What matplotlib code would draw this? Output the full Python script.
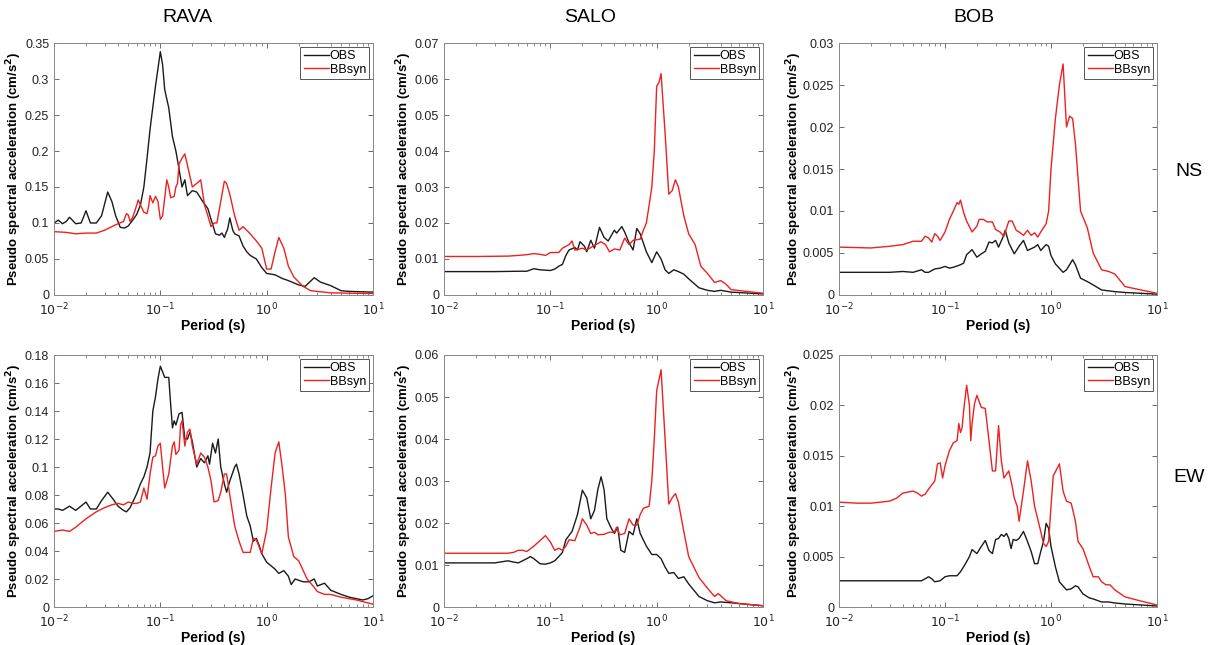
import numpy as np
import matplotlib
matplotlib.use("Agg")
import matplotlib.pyplot as plt
from matplotlib.ticker import FixedLocator, LogLocator, NullFormatter

plt.rcParams['font.family'] = ['Liberation Sans', 'DejaVu Sans']

stations = ["RAVA", "SALO", "BOB"]
components = ["NS", "EW"]

# ---- RAVA NS ----
rava_ns_obs_T = [0.01, 0.011, 0.012, 0.013, 0.014, 0.016, 0.018, 0.02, 0.022, 0.025, 0.028, 0.032, 0.035,
                 0.038, 0.042, 0.046, 0.05, 0.055, 0.06, 0.065, 0.07, 0.075, 0.08, 0.09, 0.1, 0.105, 0.11,
                 0.12, 0.13, 0.14, 0.15, 0.16, 0.17, 0.18, 0.2, 0.22, 0.25, 0.28, 0.3, 0.33, 0.36, 0.38,
                 0.4, 0.43, 0.45, 0.48, 0.5, 0.55, 0.6, 0.65, 0.7, 0.8, 0.9, 1.0, 1.2, 1.4, 1.6, 2.0, 2.3,
                 2.8, 3.2, 4.0, 5.0, 6.0, 10.0]
rava_ns_obs = [0.10, 0.104, 0.099, 0.102, 0.108, 0.099, 0.10, 0.117, 0.10, 0.10, 0.11, 0.143, 0.13,
               0.11, 0.094, 0.093, 0.096, 0.104, 0.112, 0.125, 0.15, 0.19, 0.23, 0.29, 0.338, 0.32, 0.285,
               0.26, 0.22, 0.20, 0.175, 0.15, 0.16, 0.138, 0.145, 0.143, 0.13, 0.12, 0.105, 0.085, 0.083, 0.086,
               0.08, 0.092, 0.107, 0.09, 0.085, 0.082, 0.068, 0.06, 0.055, 0.05, 0.038, 0.03, 0.028, 0.023, 0.02,
               0.014, 0.012, 0.024, 0.018, 0.013, 0.006, 0.005, 0.004]
rava_ns_syn_T = [0.01, 0.013, 0.016, 0.02, 0.025, 0.03, 0.035, 0.04, 0.045, 0.048, 0.05, 0.052, 0.055,
                 0.06, 0.062, 0.065, 0.07, 0.075, 0.078, 0.08, 0.085, 0.09, 0.095, 0.1, 0.105, 0.11, 0.115,
                 0.12, 0.125, 0.135, 0.14, 0.145, 0.15, 0.16, 0.17, 0.18, 0.2, 0.22, 0.24, 0.26, 0.28, 0.3,
                 0.32, 0.34, 0.37, 0.4, 0.42, 0.45, 0.5, 0.55, 0.6, 0.7, 0.8, 0.9, 1.0, 1.1, 1.2, 1.3, 1.45,
                 1.6, 1.8, 2.2, 2.6, 3.0, 4.0, 10.0]
rava_ns_syn = [0.088, 0.087, 0.085, 0.086, 0.086, 0.09, 0.095, 0.099, 0.102, 0.113, 0.111, 0.102, 0.108,
               0.125, 0.132, 0.125, 0.115, 0.113, 0.125, 0.138, 0.128, 0.137, 0.13, 0.105, 0.11, 0.135, 0.16,
               0.15, 0.135, 0.137, 0.15, 0.155, 0.182, 0.19, 0.196, 0.18, 0.15, 0.155, 0.16, 0.125, 0.11, 0.095,
               0.10, 0.10, 0.13, 0.158, 0.155, 0.14, 0.11, 0.09, 0.095, 0.085, 0.075, 0.065, 0.036, 0.036, 0.06,
               0.08, 0.065, 0.04, 0.025, 0.012, 0.006, 0.005, 0.003, 0.002]

# ---- SALO NS ----
salo_ns_obs_T = [0.01, 0.03, 0.05, 0.06, 0.07, 0.08, 0.1, 0.11, 0.12, 0.13, 0.14, 0.15, 0.17, 0.18, 0.19,
                 0.21, 0.22, 0.24, 0.26, 0.29, 0.32, 0.35, 0.4, 0.42, 0.47, 0.5, 0.55, 0.6, 0.65, 0.7, 0.8,
                 0.9, 1.0, 1.1, 1.2, 1.3, 1.45, 1.6, 1.8, 2.0, 2.5, 3.0, 3.5, 4.0, 5.0, 10.0]
salo_ns_obs = [0.0065, 0.0065, 0.0066, 0.0066, 0.0073, 0.007, 0.0068, 0.0072, 0.008, 0.0085, 0.011, 0.0125,
               0.0132, 0.0125, 0.0148, 0.0135, 0.012, 0.0152, 0.013, 0.0188, 0.016, 0.015, 0.018, 0.0172,
               0.019, 0.0175, 0.0145, 0.0125, 0.0185, 0.017, 0.012, 0.009, 0.012, 0.01, 0.007, 0.006, 0.007,
               0.0065, 0.0058, 0.0045, 0.002, 0.0013, 0.001, 0.0013, 0.0008, 0.0003]
salo_ns_syn_T = [0.01, 0.02, 0.04, 0.05, 0.06, 0.07, 0.08, 0.09, 0.1, 0.12, 0.13, 0.15, 0.16, 0.17, 0.19,
                 0.2, 0.22, 0.25, 0.3, 0.33, 0.36, 0.4, 0.45, 0.5, 0.55, 0.6, 0.7, 0.75, 0.8, 0.85, 0.9,
                 0.95, 1.0, 1.05, 1.1, 1.2, 1.3, 1.4, 1.5, 1.6, 1.8, 2.0, 2.3, 2.6, 3.0, 3.5, 4.0, 4.5, 5.0,
                 7.0, 10.0]
salo_ns_syn = [0.0107, 0.0107, 0.0108, 0.011, 0.0112, 0.0115, 0.0113, 0.011, 0.0118, 0.0118, 0.013, 0.014,
               0.015, 0.0125, 0.0128, 0.013, 0.0125, 0.0135, 0.0148, 0.014, 0.012, 0.0128, 0.0125, 0.0158,
               0.014, 0.0152, 0.0155, 0.018, 0.02, 0.025, 0.03, 0.04, 0.058, 0.059, 0.0615, 0.045, 0.028,
               0.029, 0.032, 0.03, 0.022, 0.017, 0.014, 0.008, 0.006, 0.0035, 0.004, 0.003, 0.0015, 0.001,
               0.0005]

# ---- BOB NS ----
bob_ns_obs_T = [0.01, 0.02, 0.03, 0.04, 0.05, 0.06, 0.065, 0.07, 0.08, 0.09, 0.1, 0.11, 0.12, 0.14, 0.15,
                0.16, 0.18, 0.2, 0.22, 0.24, 0.26, 0.28, 0.3, 0.32, 0.35, 0.37, 0.4, 0.45, 0.5, 0.55, 0.6,
                0.7, 0.75, 0.8, 0.9, 0.95, 1.0, 1.1, 1.3, 1.4, 1.6, 1.7, 1.9, 2.2, 2.5, 3.0, 4.0, 5.0, 10.0]
bob_ns_obs = [0.0027, 0.0027, 0.0027, 0.0028, 0.0027, 0.003, 0.0027, 0.0027, 0.0031, 0.0032, 0.0034,
              0.0032, 0.0033, 0.0036, 0.0038, 0.0048, 0.0054, 0.0045, 0.0049, 0.0052, 0.0063, 0.0062,
              0.0065, 0.0057, 0.0068, 0.0077, 0.0062, 0.0049, 0.0058, 0.0065, 0.0053, 0.0057, 0.006,
              0.0053, 0.006, 0.0058, 0.0047, 0.0037, 0.0027, 0.003, 0.0042, 0.0036, 0.002, 0.0016, 0.0012,
              0.0006, 0.0004, 0.0003, 0.0001]
bob_ns_syn_T = [0.01, 0.02, 0.03, 0.04, 0.05, 0.06, 0.065, 0.07, 0.075, 0.08, 0.085, 0.09, 0.1, 0.11, 0.12,
                0.13, 0.135, 0.14, 0.15, 0.16, 0.18, 0.2, 0.21, 0.23, 0.25, 0.28, 0.3, 0.33, 0.36, 0.4, 0.43,
                0.47, 0.5, 0.55, 0.6, 0.65, 0.7, 0.75, 0.8, 0.9, 0.95, 1.0, 1.1, 1.2, 1.3, 1.4, 1.5, 1.6,
                1.7, 1.9, 2.2, 2.5, 3.0, 3.5, 4.0, 5.0, 10.0]
bob_ns_syn = [0.0057, 0.0056, 0.0058, 0.006, 0.0064, 0.0064, 0.007, 0.0068, 0.0063, 0.0073, 0.007, 0.0065,
              0.0075, 0.009, 0.010, 0.011, 0.0108, 0.0113, 0.0098, 0.0088, 0.0075, 0.0082, 0.009, 0.009,
              0.0087, 0.0087, 0.0078, 0.0075, 0.007, 0.0088, 0.0088, 0.0077, 0.0075, 0.0071, 0.0077, 0.0071,
              0.0074, 0.0069, 0.0075, 0.0085, 0.010, 0.015, 0.021, 0.025, 0.0275, 0.020, 0.0213, 0.021,
              0.018, 0.010, 0.008, 0.005, 0.003, 0.0028, 0.0025, 0.001, 0.0002]

# ---- RAVA EW ----
rava_ew_obs_T = [0.01, 0.011, 0.012, 0.014, 0.016, 0.02, 0.022, 0.025, 0.028, 0.032, 0.036, 0.04, 0.045,
                 0.048, 0.052, 0.06, 0.065, 0.07, 0.075, 0.08, 0.085, 0.09, 0.095, 0.1, 0.105, 0.11, 0.12,
                 0.125, 0.13, 0.135, 0.14, 0.15, 0.16, 0.17, 0.18, 0.19, 0.2, 0.22, 0.24, 0.26, 0.28, 0.29,
                 0.31, 0.33, 0.35, 0.37, 0.4, 0.42, 0.45, 0.5, 0.52, 0.55, 0.6, 0.65, 0.7, 0.75, 0.8, 0.85,
                 0.9, 1.0, 1.2, 1.3, 1.45, 1.6, 1.7, 1.85, 2.2, 2.5, 2.8, 3.0, 3.5, 4.0, 5.0, 6.0, 8.0, 9.0,
                 10.0]
rava_ew_obs = [0.07, 0.07, 0.069, 0.072, 0.069, 0.075, 0.07, 0.07, 0.076, 0.082, 0.077, 0.072, 0.069,
               0.068, 0.071, 0.081, 0.088, 0.093, 0.10, 0.11, 0.14, 0.15, 0.163, 0.172, 0.168, 0.164, 0.164,
               0.145, 0.128, 0.133, 0.13, 0.138, 0.139, 0.12, 0.12, 0.125, 0.118, 0.10, 0.106, 0.103, 0.108,
               0.102, 0.117, 0.11, 0.12, 0.10, 0.088, 0.082, 0.09, 0.10, 0.102, 0.095, 0.08, 0.065, 0.058,
               0.047, 0.049, 0.044, 0.038, 0.032, 0.027, 0.024, 0.026, 0.022, 0.016, 0.02, 0.018, 0.018,
               0.02, 0.015, 0.017, 0.012, 0.009, 0.007, 0.005, 0.006, 0.008]
rava_ew_syn_T = [0.01, 0.012, 0.014, 0.016, 0.02, 0.025, 0.03, 0.035, 0.04, 0.045, 0.05, 0.055, 0.06, 0.065,
                 0.07, 0.075, 0.08, 0.085, 0.09, 0.095, 0.1, 0.105, 0.11, 0.115, 0.12, 0.13, 0.135, 0.14,
                 0.15, 0.155, 0.16, 0.17, 0.18, 0.19, 0.2, 0.22, 0.24, 0.26, 0.28, 0.3, 0.32, 0.35, 0.37,
                 0.4, 0.42, 0.45, 0.5, 0.55, 0.6, 0.7, 0.75, 0.8, 0.9, 1.0, 1.1, 1.2, 1.3, 1.4, 1.5, 1.6,
                 1.8, 2.0, 2.4, 2.8, 3.0, 3.5, 4.0, 5.0, 7.0, 10.0]
rava_ew_syn = [0.054, 0.055, 0.054, 0.057, 0.063, 0.068, 0.071, 0.073, 0.074, 0.073, 0.075, 0.074, 0.074,
               0.075, 0.085, 0.077, 0.095, 0.107, 0.108, 0.115, 0.117, 0.10, 0.085, 0.09, 0.095, 0.115,
               0.118, 0.109, 0.112, 0.13, 0.133, 0.115, 0.125, 0.127, 0.115, 0.102, 0.11, 0.107, 0.10, 0.09,
               0.075, 0.076, 0.082, 0.095, 0.095, 0.08, 0.058, 0.047, 0.039, 0.039, 0.049, 0.048, 0.038,
               0.055, 0.085, 0.11, 0.118, 0.10, 0.08, 0.05, 0.036, 0.033, 0.02, 0.014, 0.011, 0.009, 0.009,
               0.007, 0.005, 0.002]

# ---- SALO EW ----
salo_ew_obs_T = [0.01, 0.02, 0.03, 0.04, 0.045, 0.05, 0.06, 0.065, 0.07, 0.08, 0.09, 0.1, 0.11, 0.12, 0.13,
                 0.14, 0.16, 0.18, 0.2, 0.22, 0.24, 0.26, 0.28, 0.3, 0.32, 0.34, 0.37, 0.4, 0.43, 0.46, 0.5,
                 0.55, 0.6, 0.65, 0.7, 0.8, 0.9, 1.0, 1.1, 1.2, 1.3, 1.45, 1.6, 1.8, 2.0, 2.5, 3.0, 3.5,
                 4.0, 5.0, 10.0]
salo_ew_obs = [0.0105, 0.0105, 0.0105, 0.011, 0.0107, 0.0105, 0.0115, 0.012, 0.0115, 0.0103, 0.0102,
               0.0105, 0.011, 0.012, 0.013, 0.016, 0.018, 0.022, 0.0278, 0.026, 0.021, 0.023, 0.028, 0.031,
               0.028, 0.021, 0.019, 0.0175, 0.019, 0.0135, 0.013, 0.018, 0.0172, 0.021, 0.0175, 0.0145,
               0.0125, 0.0125, 0.0115, 0.0095, 0.008, 0.0082, 0.0068, 0.0072, 0.0055, 0.0025, 0.0015, 0.001,
               0.0012, 0.001, 0.0003]
salo_ew_syn_T = [0.01, 0.02, 0.03, 0.04, 0.045, 0.05, 0.055, 0.06, 0.07, 0.08, 0.09, 0.1, 0.11, 0.12, 0.13,
                 0.14, 0.15, 0.17, 0.19, 0.2, 0.22, 0.24, 0.26, 0.28, 0.32, 0.36, 0.4, 0.42, 0.45, 0.5, 0.55,
                 0.6, 0.65, 0.7, 0.75, 0.85, 0.9, 0.95, 1.0, 1.05, 1.1, 1.2, 1.3, 1.4, 1.5, 1.6, 1.8, 2.0,
                 2.5, 3.0, 3.5, 3.8, 4.5, 6.0, 10.0]
salo_ew_syn = [0.0128, 0.0128, 0.0128, 0.0128, 0.013, 0.0135, 0.0135, 0.0132, 0.0145, 0.0158, 0.017, 0.0155,
               0.0135, 0.014, 0.0135, 0.0145, 0.016, 0.0158, 0.019, 0.021, 0.0195, 0.0175, 0.0178, 0.0172,
               0.0173, 0.0178, 0.0178, 0.019, 0.0172, 0.0175, 0.021, 0.0195, 0.0195, 0.022, 0.0235, 0.024,
               0.03, 0.04, 0.0515, 0.054, 0.0565, 0.04, 0.0245, 0.026, 0.027, 0.025, 0.018, 0.012, 0.007,
               0.0045, 0.0025, 0.0032, 0.0015, 0.0008, 0.0003]

# ---- BOB EW ----
bob_ew_obs_T = [0.01, 0.02, 0.03, 0.04, 0.05, 0.06, 0.065, 0.07, 0.075, 0.08, 0.09, 0.1, 0.11, 0.12, 0.13,
                0.14, 0.15, 0.16, 0.17, 0.18, 0.2, 0.22, 0.24, 0.26, 0.28, 0.3, 0.32, 0.34, 0.36, 0.38, 0.4,
                0.42, 0.44, 0.47, 0.5, 0.55, 0.6, 0.65, 0.7, 0.75, 0.8, 0.85, 0.9, 0.95, 1.0, 1.1, 1.2, 1.4,
                1.55, 1.7, 1.8, 2.0, 2.3, 2.5, 3.0, 3.5, 4.0, 5.0, 10.0]
bob_ew_obs = [0.0026, 0.0026, 0.0026, 0.0026, 0.0026, 0.0026, 0.0028, 0.003, 0.0028, 0.0025, 0.0026, 0.003,
              0.0031, 0.0031, 0.0031, 0.0035, 0.004, 0.0045, 0.005, 0.0057, 0.0053, 0.006, 0.0066, 0.0056,
              0.0053, 0.0067, 0.0068, 0.0072, 0.007, 0.0073, 0.0068, 0.0058, 0.0067, 0.0066, 0.0068, 0.0075,
              0.0065, 0.0055, 0.0043, 0.0043, 0.0055, 0.0065, 0.0083, 0.0078, 0.006, 0.004, 0.0025, 0.0017,
              0.0018, 0.0021, 0.002, 0.0013, 0.0009, 0.0008, 0.0005, 0.0005, 0.0004, 0.0003, 0.0001]
bob_ew_syn_T = [0.01, 0.015, 0.02, 0.03, 0.035, 0.04, 0.05, 0.055, 0.06, 0.065, 0.07, 0.08, 0.085, 0.09,
                0.095, 0.1, 0.11, 0.12, 0.13, 0.135, 0.14, 0.145, 0.15, 0.16, 0.17, 0.175, 0.18, 0.19, 0.2,
                0.22, 0.24, 0.26, 0.28, 0.3, 0.32, 0.34, 0.36, 0.4, 0.43, 0.45, 0.48, 0.5, 0.55, 0.6, 0.65,
                0.7, 0.8, 0.85, 0.9, 0.95, 1.0, 1.05, 1.2, 1.3, 1.4, 1.55, 1.7, 1.8, 2.0, 2.3, 2.5, 2.8,
                3.0, 3.3, 3.6, 4.0, 5.0, 7.0, 10.0]
bob_ew_syn = [0.0104, 0.0103, 0.0103, 0.0105, 0.0108, 0.0113, 0.0115, 0.0113, 0.011, 0.0112, 0.0117, 0.0125,
              0.0142, 0.0143, 0.0128, 0.014, 0.0155, 0.0163, 0.0165, 0.0182, 0.0173, 0.0178, 0.0195, 0.022,
              0.020, 0.0165, 0.0182, 0.0202, 0.021, 0.0198, 0.0197, 0.0165, 0.0135, 0.0135, 0.018, 0.0145,
              0.0128, 0.0135, 0.012, 0.0108, 0.010, 0.0085, 0.0115, 0.0145, 0.0125, 0.010, 0.0075, 0.0063,
              0.006, 0.0065, 0.010, 0.013, 0.0142, 0.0115, 0.0105, 0.0103, 0.0085, 0.0065, 0.0058, 0.004,
              0.003, 0.003, 0.0025, 0.0022, 0.0022, 0.0017, 0.001, 0.0006, 0.0002]

panels = [
    [(rava_ns_obs_T, rava_ns_obs, rava_ns_syn_T, rava_ns_syn, 0.35, 0.05, ["0", "0.05", "0.1", "0.15", "0.2", "0.25", "0.3", "0.35"]),
     (salo_ns_obs_T, salo_ns_obs, salo_ns_syn_T, salo_ns_syn, 0.07, 0.01, ["0", "0.01", "0.02", "0.03", "0.04", "0.05", "0.06", "0.07"]),
     (bob_ns_obs_T, bob_ns_obs, bob_ns_syn_T, bob_ns_syn, 0.03, 0.005, ["0", "0.005", "0.01", "0.015", "0.02", "0.025", "0.03"])],
    [(rava_ew_obs_T, rava_ew_obs, rava_ew_syn_T, rava_ew_syn, 0.18, 0.02, ["0", "0.02", "0.04", "0.06", "0.08", "0.1", "0.12", "0.14", "0.16", "0.18"]),
     (salo_ew_obs_T, salo_ew_obs, salo_ew_syn_T, salo_ew_syn, 0.06, 0.01, ["0", "0.01", "0.02", "0.03", "0.04", "0.05", "0.06"]),
     (bob_ew_obs_T, bob_ew_obs, bob_ew_syn_T, bob_ew_syn, 0.025, 0.005, ["0", "0.005", "0.01", "0.015", "0.02", "0.025"])],
]

W, H = 1216, 645
fig = plt.figure(figsize=(W / 100, H / 100), dpi=100)

lefts = [54, 444, 839]
rights = [373, 763, 1157]
tops = [43, 355]
bottoms = [295, 607]
ylab_x = [24, 414, 804]

for r in range(2):
    for c in range(3):
        obs_T, obs, syn_T, syn, ymax, ystep, ylabels = panels[r][c]
        ax = fig.add_axes([lefts[c] / W, 1 - bottoms[r] / H,
                           (rights[c] - lefts[c]) / W, (bottoms[r] - tops[r]) / H])
        ax.plot(obs_T, obs, color='#1a1a1a', lw=1.0, label='OBS')
        ax.plot(syn_T, syn, color='#ee2020', lw=1.0, label='BBsyn')
        ax.set_xscale('log')
        ax.set_xlim(0.01, 10)
        ax.set_ylim(0, ymax)
        ax.yaxis.set_major_locator(FixedLocator(np.arange(len(ylabels)) * ystep))
        ax.set_yticklabels(ylabels)
        ax.xaxis.set_major_locator(FixedLocator([0.01, 0.1, 1, 10]))
        ax.set_xticklabels([r'$10^{-2}$', r'$10^{-1}$', r'$10^{0}$', r'$10^{1}$'])
        ax.xaxis.set_minor_locator(LogLocator(base=10, subs=np.arange(2, 10)))
        ax.xaxis.set_minor_formatter(NullFormatter())
        ax.tick_params(which='both', direction='in', top=True, right=True,
                       colors='#555555', labelcolor='#222222', labelsize=9)
        ax.tick_params(which='major', length=3.5, width=0.6)
        ax.tick_params(which='minor', length=2, width=0.5)
        ax.tick_params(axis='x', which='major', pad=5)
        for s in ax.spines.values():
            s.set_color('#888888')
            s.set_linewidth(0.7)
        ax.set_xlabel('Period (s)', fontsize=10, fontweight='bold', labelpad=0)
        ax.set_ylabel(r'Pseudo spectral acceleration (cm/s$^\mathbf{2}$)', fontsize=9.5,
                      fontweight='bold')
        ax.yaxis.set_label_coords((ylab_x[c] - lefts[c]) / (rights[c] - lefts[c]), 0.5)
        leg = ax.legend(loc='upper right', fontsize=9, handlelength=2.0, handletextpad=0.1,
                        borderpad=0.25, labelspacing=0.15, fancybox=False, framealpha=1,
                        borderaxespad=0.3)
        leg.get_frame().set_edgecolor('#555555')
        leg.get_frame().set_linewidth(0.7)

for name, xc in zip(stations, [187, 590, 974]):
    fig.text(xc / W, 1 - 17 / H, name, ha='center', va='center', fontsize=14)
for comp, yc in zip(components, [172, 477]):
    fig.text(1189 / W, 1 - yc / H, comp, ha='center', va='center', fontsize=14)

fig.savefig('out.png', dpi=100, facecolor='white')
